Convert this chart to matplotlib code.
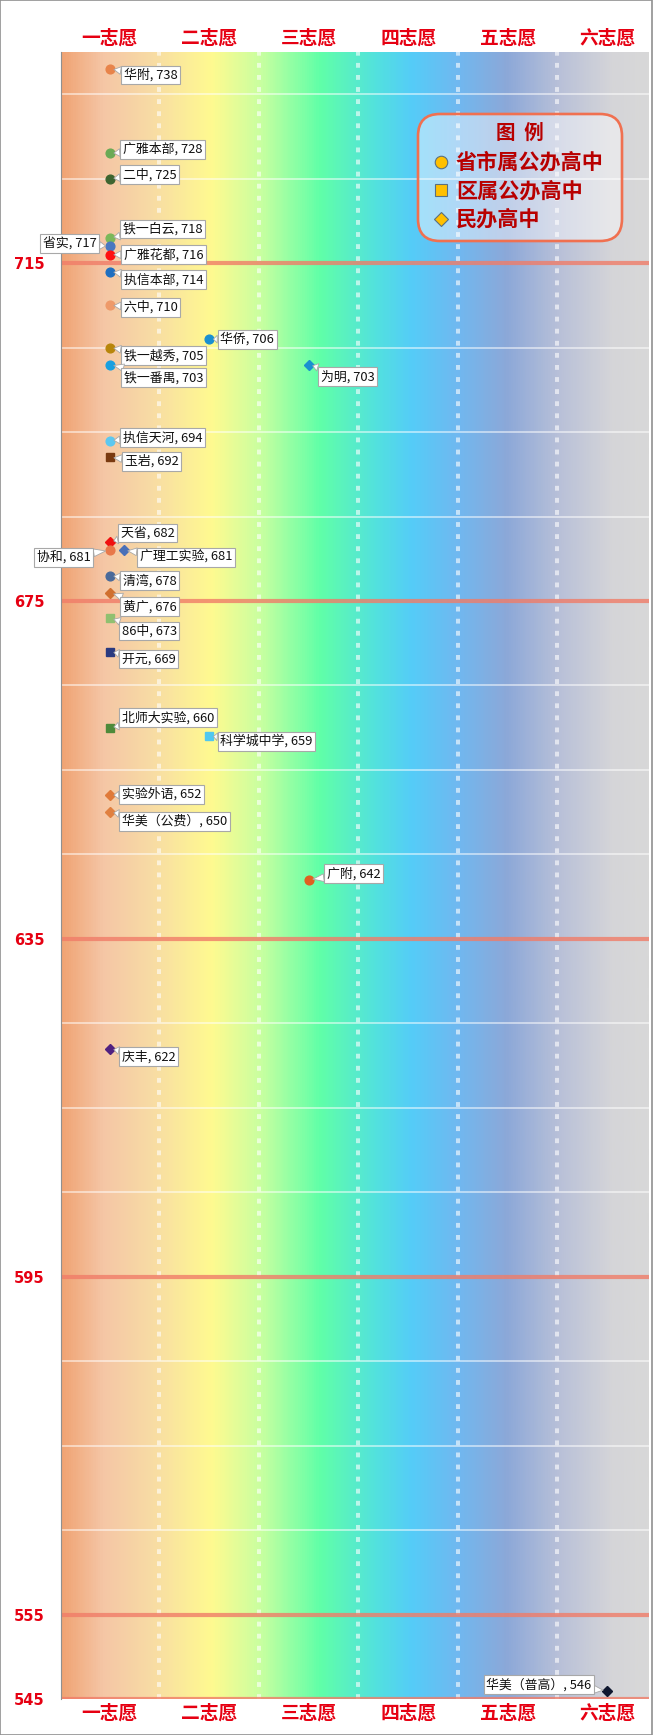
import numpy as np
import matplotlib
matplotlib.use("Agg")
import matplotlib.pyplot as plt
from matplotlib.colors import LinearSegmentedColormap
from matplotlib.patches import FancyBboxPatch, Rectangle

plt.rcParams['font.family'] = ['Noto Sans CJK SC', 'DejaVu Sans']

# ---- data ----
choices = ["一志愿", "二志愿", "三志愿", "四志愿", "五志愿", "六志愿"]
schools = ["华附", "广雅本部", "二中", "铁一白云", "省实", "广雅花都", "执信本部", "六中",
           "铁一越秀", "铁一番禺", "执信天河", "玉岩", "天省", "协和", "广理工实验", "清湾",
           "黄广", "86中", "开元", "北师大实验", "科学城中学", "实验外语", "华美（公费）",
           "广附", "庆丰", "华侨", "为明", "华美（普高）"]
scores = [738, 728, 725, 718, 717, 716, 714, 710, 705, 703, 694, 692, 682, 681, 681,
          678, 676, 673, 669, 660, 659, 652, 650, 642, 622, 706, 703, 546]
choice_idx = [0, 0, 0, 0, 0, 0, 0, 0, 0, 0, 0, 0, 0, 0, 0, 0, 0, 0, 0, 0, 1, 0, 0,
              2, 0, 1, 2, 5]
# 0 = 省市属公办, 1 = 区属公办, 2 = 民办
school_type = [0, 0, 0, 0, 0, 0, 0, 0, 0, 0, 0, 1, 2, 0, 2, 0, 2, 1, 1, 1, 1, 2, 2,
               0, 2, 0, 2, 2]
type_names = ["省市属公办高中", "区属公办高中", "民办高中"]
y_ticks = [545, 555, 595, 635, 675, 715]

# ---- styles / layout ----
colors = ["#E8844A", "#6AAA55", "#3E6530", "#7BB85A", "#4A78C0", "#FF1010", "#1F6FC0",
          "#EE9A6A", "#B8860B", "#1AA0E0", "#5CC8F0", "#7A3A10", "#F01010", "#E8784A",
          "#4A70B8", "#4A6A9A", "#D07030", "#90C070", "#2A3A80", "#4E8A3A", "#50C8F0",
          "#E07A3A", "#E08040", "#E06020", "#502080", "#1A90D0", "#1A90D0", "#101830"]
markers = ["o", "s", "D"]
msize = [6.3, 6.3, 5.3]
x_jitter = {"广理工实验": 0.14}
# (dx, dy) in pixels from marker to near edge / centre of label box, dy > 0 means below
offsets = {"华附": (11, 6), "广雅本部": (10, -4), "二中": (10, -4), "铁一白云": (10, -9),
           "省实": (-10, -3), "广雅花都": (11, 0), "执信本部": (11, 8), "六中": (11, 2),
           "铁一越秀": (11, 8), "铁一番禺": (11, 13), "执信天河": (10, -3), "玉岩": (12, 4),
           "天省": (8, -9), "协和": (-16, 7), "广理工实验": (13, 7), "清湾": (10, 5),
           "黄广": (10, 14), "86中": (9, 13), "开元": (9, 7), "北师大实验": (9, -10),
           "科学城中学": (8, 5), "实验外语": (9, -1), "华美（公费）": (9, 9), "广附": (15, -6),
           "庆丰": (9, 8), "华侨": (8, 0), "为明": (9, 12), "华美（普高）": (-13, -6)}

W, H = 658, 1735
red = "#E60012"
fig = plt.figure(figsize=(W / 100, H / 100), dpi=100)
ax = fig.add_axes([61 / W, 1 - 1699 / H, (649 - 61) / W, (1699 - 52) / H])
x0, x1 = -0.49, 5.42
y0, y1 = 545, 740
ax.set_xlim(x0, x1)
ax.set_ylim(y0, y1)

# rainbow background
stops = [(0.0, "#F0A474"), (0.07, "#F5C6A6"), (0.155, "#F8DCA4"), (0.255, "#FFFA90"),
         (0.34, "#C8FFA0"), (0.44, "#60FFA8"), (0.54, "#52E0E0"), (0.598, "#55CCF8"),
         (0.676, "#70B8F0"), (0.76, "#8CA8D8"), (0.848, "#B8C0D8"), (0.94, "#D5D5D8"),
         (1.0, "#D8D8D8")]
cmap = LinearSegmentedColormap.from_list("bg", stops)
grad = np.linspace(0, 1, 600).reshape(1, -1)
ax.imshow(grad, cmap=cmap, extent=(x0, x1, y0, y1), aspect="auto", zorder=0)

# grid lines
for v in range(545, 740, 10):
    if v in y_ticks:
        continue
    ax.axhline(v, color="white", alpha=0.6, lw=1.2, zorder=1)
for v in y_ticks:
    ax.axhline(v, color="#F07C68", alpha=0.8, lw=3.0, zorder=2)
for i in range(len(choices) - 1):
    ax.axvline(i + 0.5, color="white", alpha=0.6, lw=2.9, dashes=(1.2, 1.8), zorder=1)

# points + labels
for name, s, c, t, col in zip(schools, scores, choice_idx, school_type, colors):
    x = c + x_jitter.get(name, 0)
    ax.plot(x, s, marker=markers[t], ms=msize[t], color=col, mec=col, ls="none", zorder=5)
    dx, dy = offsets[name]
    ha = "left" if dx > 0 else "right"
    dx = dx + 3 if dx > 0 else dx - 3
    ax.annotate(f"{name}, {s}", xy=(x, s), xytext=(dx, -dy), textcoords="offset pixels",
                ha=ha, va="center", fontsize=9.3, color="#111111", zorder=6,
                bbox=dict(boxstyle="square,pad=0.2", fc="white", ec="#A8A8A8", lw=0.8),
                arrowprops=dict(arrowstyle="wedge,tail_width=0.6,shrink_factor=0.5",
                                fc="white", ec="#A8A8A8", lw=0.6, shrinkA=0, shrinkB=3))

# axes text
ax.set_yticks(y_ticks)
ax.set_yticklabels([str(v) for v in y_ticks], color=red, fontsize=10.5,
                   fontweight="bold", family="DejaVu Sans")
ax.set_xticks(range(len(choices)))
ax.set_xticklabels(choices, color=red, fontsize=13.5, fontweight="bold")
ax.tick_params(axis="y", length=0, pad=12)
ax.tick_params(axis="x", length=0, pad=3, labeltop=True, top=False)
for sp in ["top", "right", "bottom"]:
    ax.spines[sp].set_visible(False)
ax.spines["left"].set_color("#909090")
ax.spines["left"].set_zorder(3)

# legend box, drawn in its own pixel-unit axes
lx, ly, lw_, lh = 416, 112, 208, 131
lax = fig.add_axes([lx / W, 1 - (ly + lh) / H, lw_ / W, lh / H])
lax.set_xlim(0, lw_)
lax.set_ylim(lh, 0)
lax.axis("off")
lax.add_patch(FancyBboxPatch((2, 2), lw_ - 4, lh - 4,
                             boxstyle="round,pad=0,rounding_size=22",
                             fc=(1, 1, 1, 0.45), ec="#F07050", lw=1.9))
lax.text(104, 21, "图  例", ha="center", va="center", fontsize=14,
         fontweight="bold", color="#B80000")
for k, nm in enumerate(type_names):
    yy = 50 + k * 28.5
    lax.plot(25, yy, marker=markers[k], ms=[9, 8.5, 7.5][k], color="#FFC000",
             mec="#5A7080", mew=0.8, ls="none")
    lax.text(40, yy, nm, ha="left", va="center", fontsize=15.2, fontweight="bold",
             color="#B80000")

# outer frame
fig.patches.append(Rectangle((0, 0), 651.5 / W, 1, transform=fig.transFigure,
                             fill=False, ec="#909090", lw=1.2))

fig.savefig("out.png", dpi=100)
